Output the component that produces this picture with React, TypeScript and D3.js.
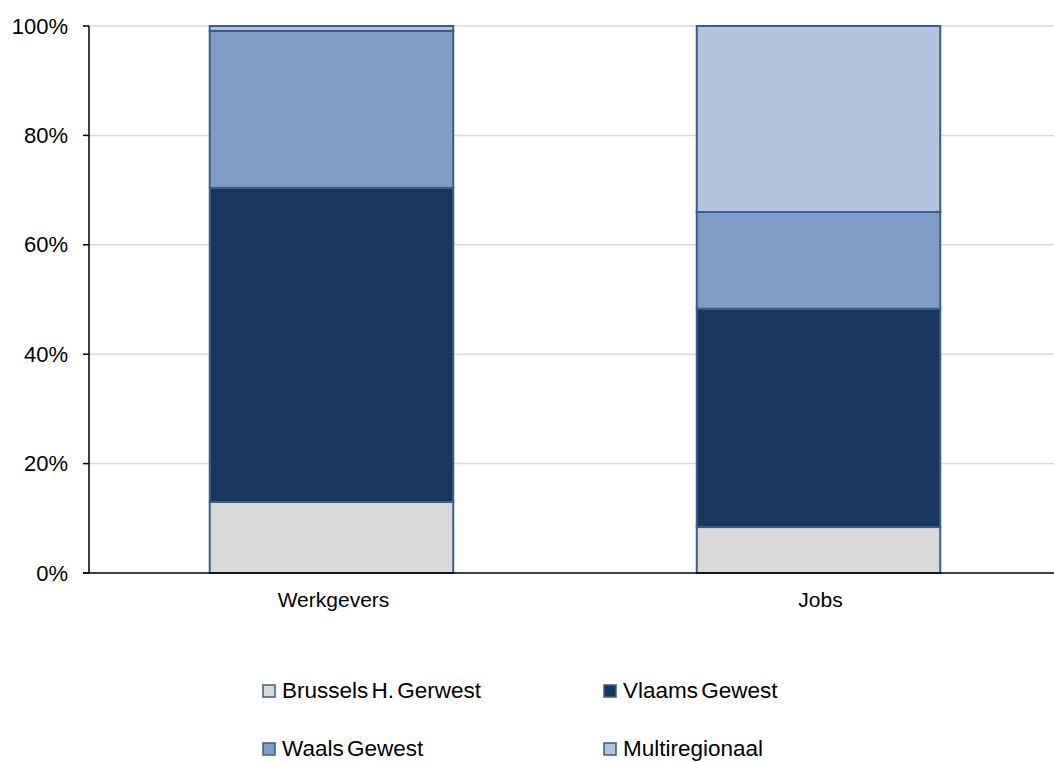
import React from "react";
import * as d3 from "d3";

const categories = ["Werkgevers", "Jobs"];
const seriesNames = ["Brussels H. Gerwest", "Vlaams Gewest", "Waals Gewest", "Multiregionaal"];
const brussels = [13.0, 8.4];
const vlaams = [57.4, 39.9];
const waals = [28.7, 17.7];
const multi = [0.9, 34.0];
const yTicks = [0, 20, 40, 60, 80, 100];
const colors = ["#D9D9D9", "#17375E", "#7F9CC8", "#B5C4DE"];

const W = 1054;
const H = 762;
const FONT = "'Liberation Sans', Arial, sans-serif";

export default function App() {
  const x = d3.scaleBand<string>().domain(categories).range([88, 1062]).paddingInner(0.5).paddingOuter(0.25);
  const y = d3.scaleLinear().domain([0, 100]).range([573, 26]);
  const rows = categories.map((c, i) => ({
    cat: c,
    "Brussels H. Gerwest": brussels[i],
    "Vlaams Gewest": vlaams[i],
    "Waals Gewest": waals[i],
    Multiregionaal: multi[i],
  }));
  const stack = d3.stack<any>().keys(seriesNames)(rows);

  const legend = [
    { name: seriesNames[0], x: 263, y: 698 },
    { name: seriesNames[1], x: 604, y: 698 },
    { name: seriesNames[2], x: 263, y: 756 },
    { name: seriesNames[3], x: 604, y: 756 },
  ];

  return (
    <svg width={W} height={H} style={{ position: "absolute", left: 0, top: 0, background: "#fff" }} fontFamily={FONT}>
      {yTicks.filter((t) => t > 0).map((t) => (
        <line key={"g" + t} x1={89} x2={W} y1={y(t)} y2={y(t)} stroke="#D9D9D9" strokeWidth={1.5} />
      ))}
      {stack.map((s, si) =>
        s.map((d, i) => (
          <rect
            key={si + "-" + i}
            x={x(categories[i])!}
            width={x.bandwidth()}
            y={y(d[1])}
            height={y(d[0]) - y(d[1])}
            fill={colors[si]}
            stroke="#385D8A"
            strokeWidth={2}
          />
        ))
      )}
      <line x1={89} x2={89} y1={y(100)} y2={y(0)} stroke="#000" strokeWidth={1.5} />
      <line x1={83} x2={W} y1={y(0)} y2={y(0)} stroke="#000" strokeWidth={1.5} />
      {yTicks.map((t) => (
        <g key={"t" + t}>
          <line x1={83} x2={89} y1={y(t)} y2={y(t)} stroke="#000" strokeWidth={1.5} />
          <text x={68} y={y(t) + 7.5} textAnchor="end" fontSize={22} fill="#000">
            {t + "%"}
          </text>
        </g>
      ))}
      {categories.map((c) => (
        <text key={c} x={x(c)! + x.bandwidth() / 2 + 2} y={607} textAnchor="middle" fontSize={21} fill="#000">
          {c}
        </text>
      ))}
      {legend.map((l, i) => (
        <g key={l.name}>
          <rect x={l.x} y={l.y - 13} width={12} height={12} fill={colors[i]} stroke="#385D8A" strokeWidth={1.5} />
          <text x={l.x + 19} y={l.y} fontSize={22.5} wordSpacing={-3} fill="#000">
            {l.name}
          </text>
        </g>
      ))}
    </svg>
  );
}
